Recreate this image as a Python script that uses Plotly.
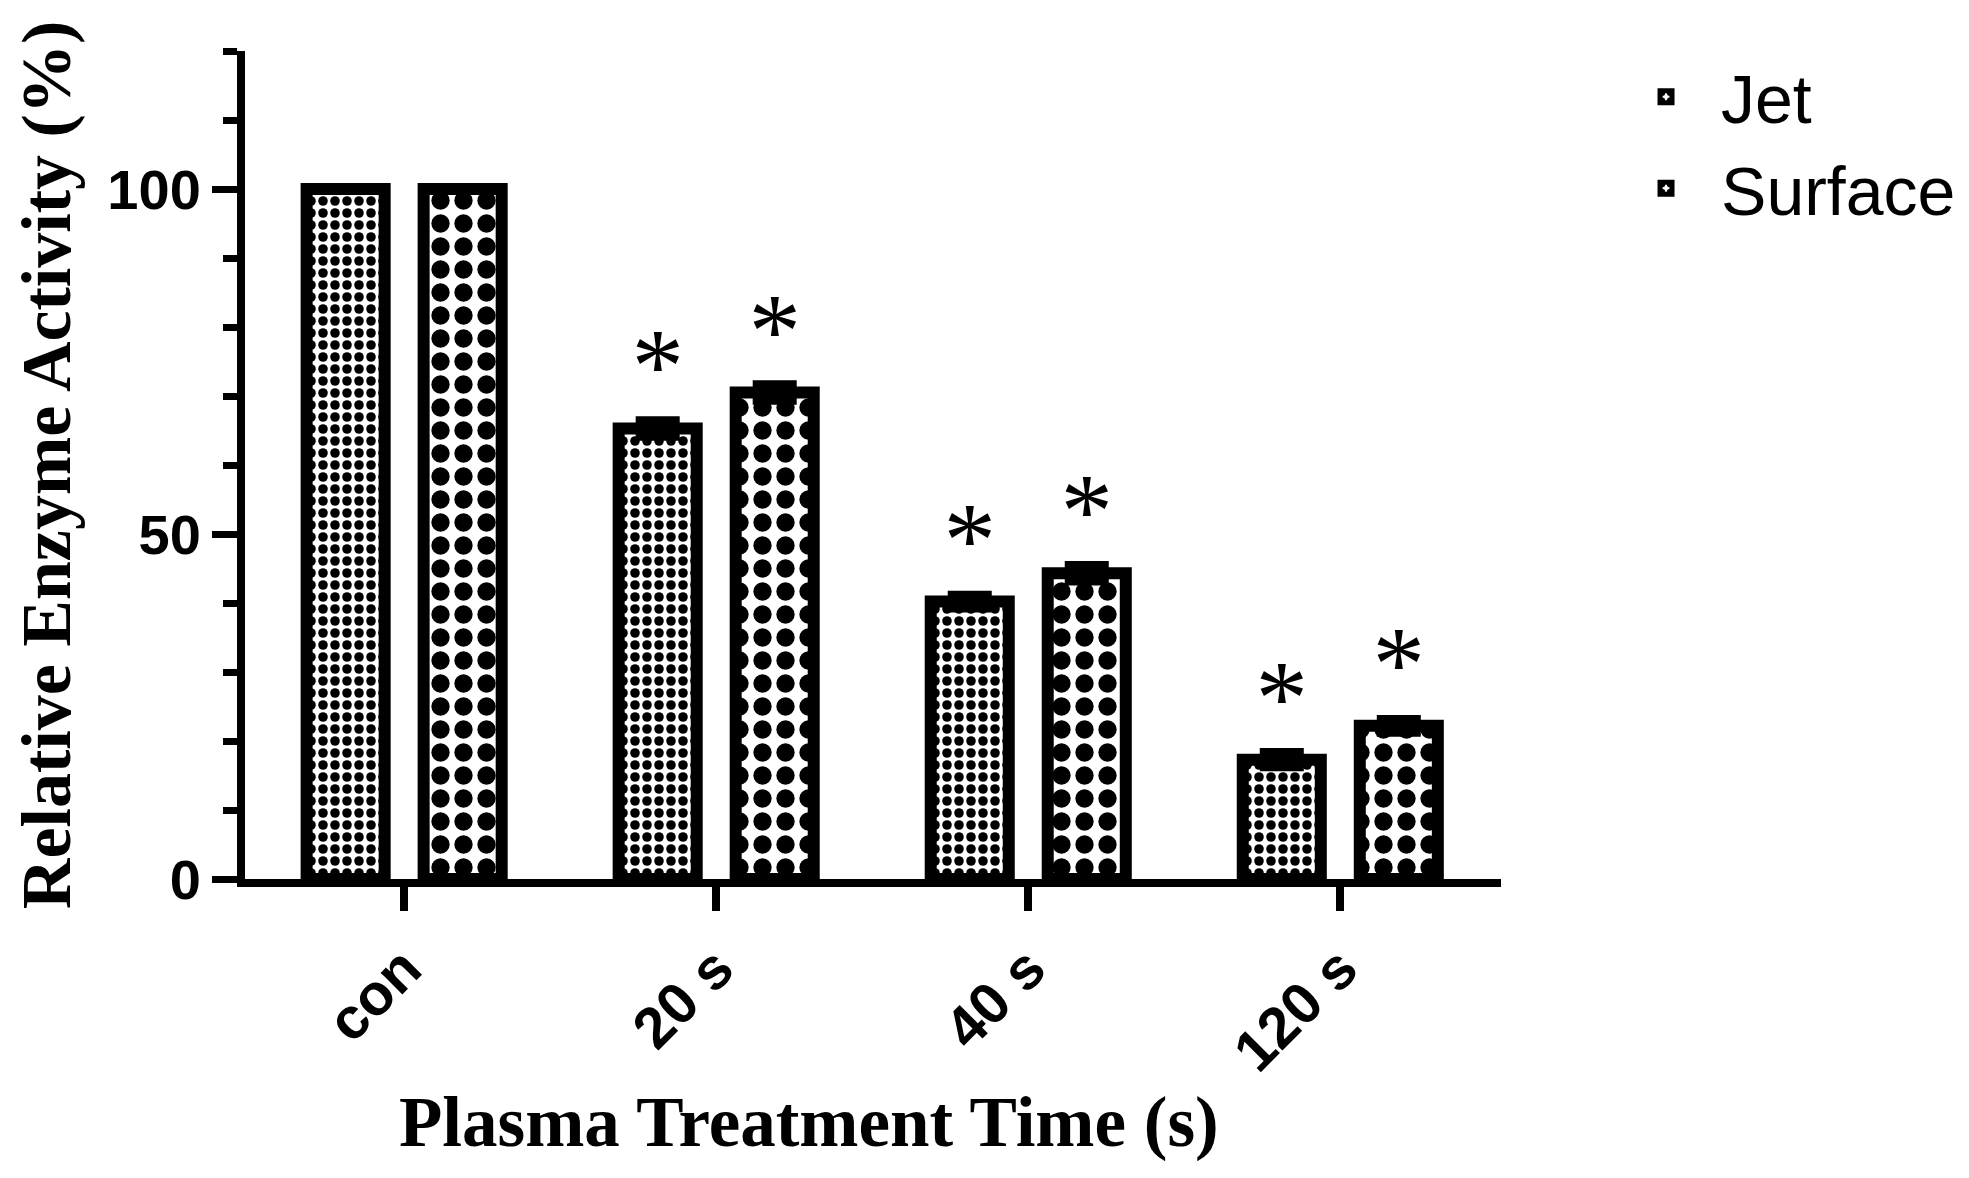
import plotly.graph_objects as go

# values (relative activity, % of control)
CATEGORIES = ["con", "20 s", "40 s", "120 s"]
JET = [100, 65.3, 40.2, 17.3]
SURFACE = [100, 70.5, 44.3, 22.2]
JET_ERR = [0, 1.2, 1.0, 1.1]
SURFACE_ERR = [0, 1.2, 1.2, 1.0]
SIGNIFICANT = [False, True, True, True]
Y_TICKS = [0, 50, 100]

SANS = "Arial, Liberation Sans, sans-serif"
SERIF = "Times New Roman, Liberation Serif, serif"


def bar_trace(name, values, errors, cell):
    return go.Bar(
        x=CATEGORIES, y=values, name=name,
        marker=dict(
            color="white",
            line=dict(color="black", width=12),
            pattern=dict(shape=".", fgcolor="black", bgcolor="white",
                         size=cell, solidity=0.5, fillmode="replace"),
        ),
        error_y=dict(type="data", array=errors, visible=True,
                     color="black", thickness=8, width=22),
        text=["*" if s else "" for s in SIGNIFICANT],
        textposition="outside",
        textfont=dict(family=SERIF, size=105, color="black"),
        constraintext="none",
        cliponaxis=False,
    )


fig = go.Figure()
fig.add_trace(bar_trace("Jet", JET, JET_ERR, 12))
fig.add_trace(bar_trace("Surface", SURFACE, SURFACE_ERR, 23))

fig.update_xaxes(
    type="category", range=[-0.51, 3.515], automargin=False,
    showline=True, linewidth=8, linecolor="black",
    ticks="outside", ticklen=24, tickwidth=8, tickcolor="black",
    tickangle=-45, tickfont=dict(family=SANS, size=58, weight="bold"),
    showgrid=False, zeroline=False,
)
fig.update_yaxes(
    range=[0, 120], tickvals=Y_TICKS, automargin=False,
    showline=True, linewidth=8, linecolor="black",
    ticks="outside", ticklen=25, tickwidth=7, tickcolor="black",
    minor=dict(dtick=10, ticks="outside", ticklen=14, tickwidth=7, tickcolor="black"),
    tickfont=dict(family=SANS, size=56, weight="bold"),
    title=dict(text="Relative Enzyme Activity (%)", standoff=50,
               font=dict(family=SERIF, size=70, weight="bold")),
    showgrid=False, zeroline=False,
)
fig.add_annotation(
    text="Plasma Treatment Time (s)", xref="paper", yref="paper",
    x=0.449, y=-0.2935, xanchor="center", yanchor="middle", showarrow=False,
    font=dict(family=SERIF, size=71, weight="bold", color="black"),
)
fig.update_layout(
    width=1969, height=1178,
    margin=dict(l=237, r=476, t=43, b=307),
    barmode="group", bargap=0.25, bargroupgap=0.333,
    plot_bgcolor="white", paper_bgcolor="white",
    font=dict(family=SANS, color="black"),
    legend=dict(x=1.0876, y=1.006, xanchor="left", yanchor="top",
                font=dict(family=SANS, size=68), itemwidth=100),
    showlegend=True,
)

fig.write_html("out.html")
